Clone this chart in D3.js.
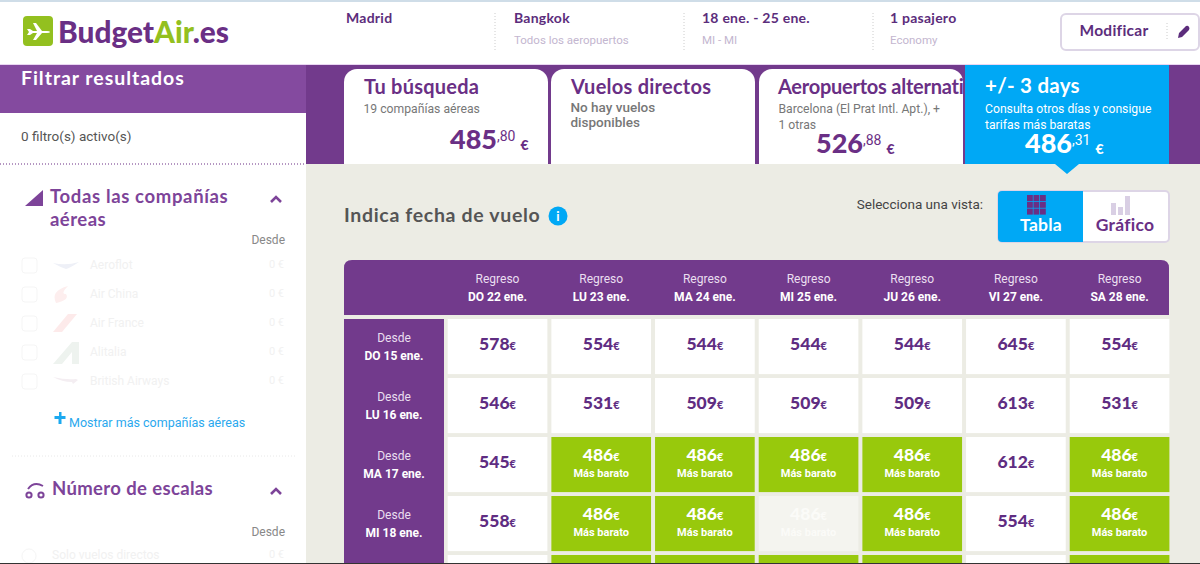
<!DOCTYPE html>
<html lang="es">
<head>
<meta charset="utf-8">
<title>BudgetAir.es +/- 3 days</title>
<script src="https://cdn.jsdelivr.net/npm/d3@7"></script>
<style>
  html, body { margin: 0; padding: 0; background: #fff; overflow: hidden; }
  svg { display: block; }
  text { font-family: Roboto, sans-serif; }
  .head { font-family: Lato, sans-serif; font-weight: 700; letter-spacing: .25px; }
  .heavy { font-family: Lato, sans-serif; font-weight: 900; }
</style>
</head>
<body>
<div id="chart"></div>
<script>
// table data
var returnDays = ["DO 22 ene.", "LU 23 ene.", "MA 24 ene.", "MI 25 ene.", "JU 26 ene.", "VI 27 ene.", "SA 28 ene."];
var departDays = ["DO 15 ene.", "LU 16 ene.", "MA 17 ene.", "MI 18 ene.", "JU 19 ene."];
var pricesRow1 = [578, 554, 544, 544, 544, 645, 554];
var pricesRow2 = [546, 531, 509, 509, 509, 613, 531];
var pricesRow3 = [545, 486, 486, 486, 486, 612, 486];
var pricesRow4 = [558, 486, 486, 486, 486, 554, 486];
// last row is cut by the screenshot, only the cell colours can be seen
var pricesRow5 = [null, 486, 486, 486, 486, null, 486];
var priceRows = [pricesRow1, pricesRow2, pricesRow3, pricesRow4, pricesRow5];
var cheapest = 486;
var fadedCell = { row: 3, col: 3 };

var airlines = ["Aeroflot", "Air China", "Air France", "Alitalia", "British Airways"];
var airlineColors = ["#eef0f7", "#fdeeee", "#fdeaea", "#eef3ef", "#f4eef2"];
// little tail shapes, drawn around the middle of each row
var airlineShapes = [
  "M53,-2 Q66,1 79,-3 Q70,3 66,4 Q60,2 53,-2 Z",
  "M56,9 Q50,-3 68,-8 Q60,0 66,0 Q70,6 56,9 Z",
  "M53,9 L68,-9 L77,-9 L62,9 Z",
  "M53,12 L72,-10 L79,-10 L79,12 L72,12 L72,0 L62,12 Z",
  "M53,-4 Q66,-1 76,-2 L78,-1 L73,3 L72,1 Q62,1 53,-4 Z"
];

var tabs = [
  { title: "Tu búsqueda", lines: ["19 compañías aéreas"], euros: "485", cents: ",80", left: 344, priceX: 450, priceY: 149 },
  { title: "Vuelos directos", lines: ["No hay vuelos", "disponibles"], left: 551 },
  { title: "Aeropuertos alternati", len: 186, lines: ["Barcelona (El Prat Intl. Apt.), +", "1 otras"], euros: "526", cents: ",88", left: 759, priceX: 816, priceY: 153 }
];
var trip = [
  { x: 346, top: "Madrid", sub: "" },
  { x: 514, top: "Bangkok", sub: "Todos los aeropuertos" },
  { x: 702, top: "18 ene. - 25 ene.", sub: "MI - MI" },
  { x: 890, top: "1 pasajero", sub: "Economy" }
];

var purple = "#723a8c", lightPurple = "#844a9f", ink = "#5f2d82", blue = "#00a8f5", green = "#98c90c", sand = "#ecece4";

var svg = d3.select("#chart").append("svg").attr("width", 1200).attr("height", 564);

function rect(p, x, y, w, h, fill, r) {
  return p.append("rect").attr("x", x).attr("y", y).attr("width", w).attr("height", h).attr("fill", fill).attr("rx", r || 0);
}
function label(p, x, y, str, size, fill, opts) {
  opts = opts || {};
  var t = p.append("text").attr("x", x).attr("y", y).text(str)
    .attr("font-size", size).attr("fill", fill)
    .attr("class", opts.head ? "head" : null)
    .attr("font-weight", opts.weight || null)
    .attr("text-anchor", opts.anchor || "start");
  if (opts.len) t.attr("textLength", opts.len).attr("lengthAdjust", "spacing");
  return t;
}
function dotted(p, x1, y1, x2, y2, col) {
  p.append("line").attr("x1", x1).attr("y1", y1).attr("x2", x2).attr("y2", y2)
    .attr("stroke", col).attr("stroke-dasharray", "1 2");
}
function chevron(p, cx, cy) {
  p.append("path").attr("d", "M" + (cx - 5) + "," + (cy + 3) + "L" + cx + "," + (cy - 2) + "L" + (cx + 5) + "," + (cy + 3))
    .attr("fill", "none").attr("stroke", "#7d4499").attr("stroke-width", 2.6);
}
function bigPrice(p, x, y, euros, cents, col) {
  var t = p.append("text").attr("x", x).attr("y", y).attr("fill", col).attr("class", "heavy");
  t.append("tspan").attr("font-size", 27).text(euros);
  t.append("tspan").attr("font-size", 14).attr("font-family", "Roboto").style("font-weight", 400).attr("dy", -8).text(cents);
  t.append("tspan").attr("font-size", 14).attr("dx", 5).attr("dy", 9).text("€");
}

// page background
rect(svg, 0, 0, 1200, 564, "#fff");
rect(svg, 0, 0, 1200, 2, "#cfdde8");
rect(svg, 306, 164, 894, 400, sand);
rect(svg, 0, 64, 1200, 1, "#e9d6f2");
rect(svg, 306, 65, 894, 99, purple);
rect(svg, 0, 65, 306, 48, lightPurple);

// logo
var logo = svg.append("g");
rect(logo, 23, 16, 30, 30, "#93c01f", 4);
logo.append("path")
  .attr("d", "M27,29 L30,29 L33,31 L37,31 L33,23 L36,23 L42,31 L47,31 Q50,31 50,32 Q50,33 47,33 L42,33 L36,40 L33,40 L37,33 L33,33 L30,35 L27,35 L29,32 Z")
  .attr("fill", "#fff");
var logoText = logo.append("text").attr("x", 58).attr("y", 43).attr("class", "heavy").attr("font-size", 31).attr("textLength", 171).attr("lengthAdjust", "spacingAndGlyphs");
logoText.append("tspan").attr("fill", "#6a2f85").text("Budget");
logoText.append("tspan").attr("fill", "#93c01f").text("Air");
logoText.append("tspan").attr("fill", "#6a2f85").text(".es");

// trip summary
trip.forEach(function (d) {
  label(svg, d.x, 23, d.top, 14, "#5c2d7c", { head: true });
  if (d.sub) label(svg, d.x, 44, d.sub, 11.5, "#c3b6cf");
});
[495, 684, 873].forEach(function (x) { dotted(svg, x, 13, x, 51, "#cccccc"); });
svg.append("rect").attr("x", 1061).attr("y", 14).attr("width", 138).attr("height", 36).attr("rx", 5)
  .attr("fill", "#fff").attr("stroke", "#ddd5e6").attr("stroke-width", 2);
label(svg, 1114, 36, "Modificar", 15.5, "#5c2d7c", { head: true, anchor: "middle" });
dotted(svg, 1167, 23, 1167, 41, "#cccccc");
svg.append("path").attr("d", "M1178,38 L1179,33 L1186,26 Q1188,25 1189,27 Q1190,28 1189,30 L1182,37 Z").attr("fill", "#5c2d7c");

// sidebar
label(svg, 21, 85, "Filtrar resultados", 19.5, "#fff", { head: true, len: 163 });
label(svg, 21, 141, "0 filtro(s) activo(s)", 13.5, "#555");
dotted(svg, 0, 164, 306, 164, "#6a2f85");

svg.append("path").attr("d", "M25,206 L43,190 L43,206 Z").attr("fill", "#7d4499");
label(svg, 50, 203, "Todas las compañías", 18.5, "#7d4499", { head: true, len: 178 });
label(svg, 50, 226, "aéreas", 18.5, "#7d4499", { head: true, len: 56 });
chevron(svg, 276, 199);
label(svg, 285, 244, "Desde", 12, "#888", { anchor: "end" });

var airlineY = d3.scalePoint().domain(airlines).range([265, 381]);
var rowsG = svg.selectAll("g.airline").data(airlines).enter().append("g").attr("class", "airline")
  .attr("transform", function (d) { return "translate(0," + airlineY(d) + ")"; });
rowsG.append("rect").attr("x", 22).attr("y", -7).attr("width", 15).attr("height", 15).attr("rx", 3)
  .attr("fill", "#fff").attr("stroke", "#f5f5f5");
rowsG.append("path").attr("d", function (d, i) { return airlineShapes[i]; })
  .attr("fill", function (d, i) { return airlineColors[i]; });
rowsG.append("text").attr("x", 90).attr("y", 4).attr("font-size", 12).attr("fill", "#f1f1f1").text(function (d) { return d; });
rowsG.append("text").attr("x", 284).attr("y", 3).attr("font-size", 11).attr("fill", "#f1f1f1").attr("text-anchor", "end").text("0 €");

svg.append("path").attr("d", "M59,412 h2.5 v4 h4 v3 h-4 v5 h-3 v-5 h-4 v-3 h4.5 Z").attr("fill", "#1ca9f0");
label(svg, 69, 427, "Mostrar más compañías aéreas", 12.5, "#2aa8ee");
dotted(svg, 12, 456, 295, 456, "#e8e8e8");

var stops = svg.append("g").attr("fill", "none").attr("stroke", "#7d4499").attr("stroke-width", 2);
stops.append("circle").attr("cx", 29).attr("cy", 495).attr("r", 2.6);
stops.append("circle").attr("cx", 41).attr("cy", 495).attr("r", 2.6);
stops.append("path").attr("d", "M28,489 Q34,481 43,486");
label(svg, 52, 495, "Número de escalas", 18.5, "#7d4499", { head: true, len: 161 });
chevron(svg, 276, 491);
label(svg, 285, 536, "Desde", 12, "#888", { anchor: "end" });
svg.append("circle").attr("cx", 29).attr("cy", 556).attr("r", 7).attr("fill", "#fff").attr("stroke", "#f5f5f5");
label(svg, 52, 559, "Solo vuelos directos", 12, "#f1f1f1");
label(svg, 284, 558, "0 €", 11, "#f1f1f1", { anchor: "end" });

// tabs
var defs = svg.append("defs");
defs.append("clipPath").attr("id", "tabclip").append("rect").attr("x", 306).attr("y", 65).attr("width", 659).attr("height", 99);
var tabsG = svg.append("g").attr("clip-path", "url(#tabclip)");
tabs.forEach(function (t) {
  var g = tabsG.append("g");
  rect(g, t.left, 69, 204, 115, "#fff", 13);
  label(g, t.left + 20 - (t.len ? 1 : 0), 94, t.title, 20, "#6a2f85", { head: true, len: t.len });
  var one = t.left === 551;
  t.lines.forEach(function (l, i) {
    label(g, t.left + 19.5, (one ? 112 : 113) + i * (one ? 14.5 : 15.5), l, one ? 13.5 : 12.2, "#777", { weight: one ? 500 : 400 });
  });
  if (t.euros) bigPrice(g, t.priceX, t.priceY, t.euros, t.cents, "#6a2f85");
});

// selected tab
svg.append("path").attr("d", "M965,65 H1169 V164 H1079 L1067,174 L1055,164 H965 Z").attr("fill", blue);
label(svg, 985, 93, "+/- 3 days", 20.5, "#fff", { head: true });
label(svg, 985, 113, "Consulta otros días y consigue", 12.2, "#fff");
label(svg, 985, 129, "tarifas más baratas", 12.2, "#fff");
bigPrice(svg, 1025, 153, "486", ",31", "#fff");

// heading and view switch
label(svg, 344, 222, "Indica fecha de vuelo", 19.5, "#555", { head: true, len: 196 });
svg.append("circle").attr("cx", 558).attr("cy", 216).attr("r", 9.5).attr("fill", blue);
label(svg, 558, 221, "i", 13, "#fff", { head: true, anchor: "middle" });
label(svg, 983, 209, "Selecciona una vista:", 13.5, "#444", { anchor: "end" });

svg.append("rect").attr("x", 998).attr("y", 191).attr("width", 171).attr("height", 51).attr("rx", 4)
  .attr("fill", "#fff").attr("stroke", "#ddd5e6").attr("stroke-width", 2);
svg.append("path").attr("d", "M1002,191 H1083 V242 H1002 Q998,242 998,238 V195 Q998,191 1002,191 Z").attr("fill", blue);
var iconCols = d3.range(3), iconRows = d3.range(3);
iconRows.forEach(function (r) {
  iconCols.forEach(function (c) {
    rect(svg, 1027 + c * 6.5, 195 + r * 6.8, 5.8, 6, "#6a2f85");
  });
});
label(svg, 1041, 231, "Tabla", 17.5, "#fff", { head: true, anchor: "middle" });
rect(svg, 1111, 203, 5, 12, "#d9cfe4");
rect(svg, 1118, 207, 5, 8, "#d9cfe4");
rect(svg, 1125, 196, 5, 19, "#d9cfe4");
label(svg, 1125, 231, "Gráfico", 17.5, "#6a2f85", { head: true, anchor: "middle" });

// price table
var x = d3.scaleBand().domain(returnDays).range([447.7, 1169.4]).paddingInner(0.0386);
var y = d3.scaleBand().domain(departDays).range([319, 610.1]).paddingInner(0.066);

svg.append("path").attr("d", "M344,315 V268 Q344,260 352,260 H1161 Q1169,260 1169,268 V315 Z").attr("fill", purple);
rect(svg, 344, 319, 100, 245, purple);

var colHead = svg.selectAll("g.colhead").data(returnDays).enter().append("g").attr("class", "colhead")
  .attr("transform", function (d) { return "translate(" + (x(d) + x.bandwidth() / 2) + ",0)"; });
colHead.append("text").attr("y", 283).attr("text-anchor", "middle").attr("font-size", 12).attr("fill", "#eadff0").text("Regreso");
colHead.append("text").attr("y", 301).attr("text-anchor", "middle").attr("font-size", 12).attr("font-weight", 700).attr("fill", "#fff").text(function (d) { return d; });

var visibleDays = departDays.filter(function (d) { return y(d) + 41 < 564; });
var rowHead = svg.selectAll("g.rowhead").data(visibleDays).enter().append("g").attr("class", "rowhead")
  .attr("transform", function (d) { return "translate(394," + y(d) + ")"; });
rowHead.append("text").attr("y", 23).attr("text-anchor", "middle").attr("font-size", 12).attr("fill", "#eadff0").text("Desde");
rowHead.append("text").attr("y", 41).attr("text-anchor", "middle").attr("font-size", 12).attr("font-weight", 700).attr("fill", "#fff").text(function (d) { return d; });

var cells = [];
priceRows.forEach(function (row, r) {
  row.forEach(function (price, c) {
    cells.push({ row: r, col: c, price: price, cheap: price === cheapest, faded: r === fadedCell.row && c === fadedCell.col });
  });
});

var cell = svg.selectAll("g.cell").data(cells).enter().append("g").attr("class", "cell")
  .attr("transform", function (d) { return "translate(" + x(returnDays[d.col]) + "," + y(departDays[d.row]) + ")"; });
cell.append("rect").attr("width", x.bandwidth()).attr("height", y.bandwidth())
  .attr("fill", function (d) { return d.faded ? "#f4f4ef" : d.cheap ? green : "#fff"; });

var shown = cell.filter(function (d) { return d.price !== null && d.row < visibleDays.length; });
var priceText = shown.append("text")
  .attr("x", x.bandwidth() / 2)
  .attr("y", function (d) { return d.cheap ? 24 : 31; })
  .attr("text-anchor", "middle").attr("class", "heavy")
  .attr("fill", function (d) { return d.faded ? "#fbfbf8" : d.cheap ? "#fff" : ink; });
priceText.append("tspan").attr("font-size", 17.5).text(function (d) { return d.price; });
priceText.append("tspan").attr("font-size", 11).text("€");
shown.filter(function (d) { return d.cheap; }).append("text")
  .attr("x", x.bandwidth() / 2).attr("y", 40).attr("text-anchor", "middle")
  .attr("font-size", 11).attr("font-weight", 700)
  .attr("fill", function (d) { return d.faded ? "#fbfbf8" : "#fff"; }).text("Más barato");

rect(svg, 0, 563, 1200, 1, "#333");
</script>
</body>
</html>
